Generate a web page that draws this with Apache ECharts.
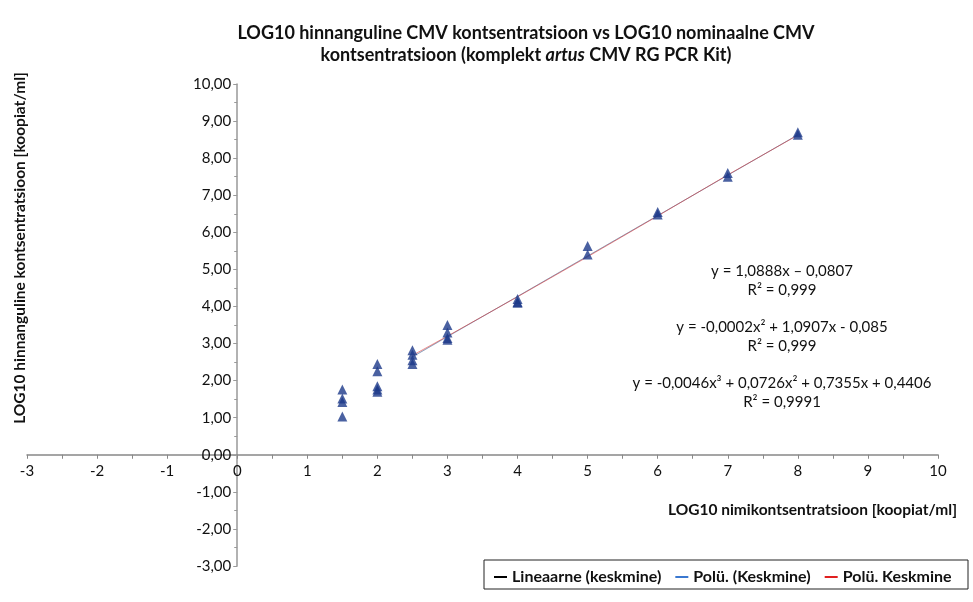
<!DOCTYPE html>
<html>
<head>
<meta charset="utf-8">
<script src="https://cdn.jsdelivr.net/npm/echarts@6/dist/echarts.min.js"></script>
<style>
    html, body { margin: 0; padding: 0; background: #fff; }
    #chart { width: 973px; height: 602px; }
</style>
</head>
<body>
<div id="chart"></div>
<script>
    // LOG10 nominaalne kontsentratsioon (x) ja hinnanguline (y) - mõõtmised
    var pointX = [1.5, 1.5, 1.5, 1.5, 2, 2, 2, 2, 2, 2.5, 2.5, 2.5, 2.5, 3, 3, 3, 3, 4, 4, 4, 5, 5, 6, 6, 7, 7, 8, 8];
    var pointY = [1.76, 1.52, 1.42, 1.03, 2.45, 2.25, 1.85, 1.76, 1.70, 2.82, 2.70, 2.55, 2.45, 3.50, 3.30, 3.15, 3.10, 4.20, 4.12, 4.10, 5.63, 5.40, 6.55, 6.48, 7.60, 7.50, 8.70, 8.63];

    // trendijooned (loetud pildilt)
    var trendX = [2.5, 3, 4, 5, 6, 7, 8];
    var linearY = [2.64, 3.19, 4.27, 5.36, 6.45, 7.54, 8.63];
    var poly2Y = [2.64, 3.18, 4.27, 5.36, 6.45, 7.54, 8.63];
    var poly3Y = [2.68, 3.20, 4.26, 5.34, 6.44, 7.55, 8.62];

    var xTicks = [-3, -2, -1, 0, 1, 2, 3, 4, 5, 6, 7, 8, 9, 10];
    var yTicks = [-3, -2, -1, 0, 1, 2, 3, 4, 5, 6, 7, 8, 9, 10];

    var seriesNames = ['Lineaarne (keskmine)', 'Polü. (Keskmine)', 'Polü. Keskmine'];
    var seriesColors = ['#000000', '#3a78d0', '#e02020'];

    var font = 'Lato, "Noto Sans", sans-serif';

    function pairs(xs, ys) {
        return xs.map(function (x, i) { return [x, ys[i]]; });
    }

    var gridLeft = 27, gridRight = 35, gridTop = 84, gridBottom = 36;
    var plotW = 973 - gridLeft - gridRight;
    var plotH = 602 - gridTop - gridBottom;
    var xMin = xTicks[0], xMax = xTicks[xTicks.length - 1];
    var yMin = yTicks[0], yMax = yTicks[yTicks.length - 1];
    // kus asub nullpunkt - telgede nihutamiseks
    var yAxisShift = -plotW * (0 - xMin) / (xMax - xMin);
    var xAxisShift = -plotH * (0 - yMin) / (yMax - yMin);

    var chart = echarts.init(document.getElementById('chart'));
    var option = {
        backgroundColor: '#fff',
        animation: false,
        textStyle: { fontFamily: font },
        title: {
            text: 'LOG10 hinnanguline CMV kontsentratsioon vs LOG10 nominaalne CMV\nkontsentratsioon (komplekt {i|artus} CMV RG PCR Kit)',
            left: 521,
            textAlign: 'center',
            top: 17,
            textStyle: {
                fontFamily: font,
                fontSize: 18,
                fontWeight: 'bold',
                color: '#111',
                lineHeight: 22,
                rich: {
                    i: { fontFamily: font, fontSize: 18, fontWeight: 'bold', fontStyle: 'italic', color: '#111' }
                }
            }
        },
        grid: {
            left: gridLeft, right: gridRight, top: gridTop, bottom: gridBottom,
            containLabel: false,
            outerBoundsMode: 'none'
        },
        xAxis: {
            type: 'value',
            min: xMin,
            max: xMax,
            interval: 1,
            offset: xAxisShift,
            axisLine: { onZero: false, lineStyle: { color: '#888', width: 1.5 } },
            axisTick: { show: true, length: 4, inside: false, lineStyle: { color: '#888' } },
            minorTick: { show: true, splitNumber: 2, length: 4, lineStyle: { color: '#888' } },
            splitLine: { show: false },
            axisLabel: {
                color: '#111', fontSize: 15, margin: 9,
                formatter: function (v) { return String(v); }
            }
        },
        yAxis: {
            type: 'value',
            min: yMin,
            max: yMax,
            interval: 1,
            offset: yAxisShift,
            axisLine: { show: true, onZero: false, lineStyle: { color: '#999', width: 1.5 } },
            axisTick: { show: true, length: 4, lineStyle: { color: '#999' } },
            minorTick: { show: true, splitNumber: 2, length: 3, lineStyle: { color: '#999' } },
            splitLine: { show: false },
            axisLabel: {
                color: '#111', fontSize: 15, margin: 6,
                formatter: function (v) { return v.toFixed(2).replace('.', ','); }
            }
        },
        legend: {
            left: 489,
            top: 564,
            itemGap: 14,
            itemWidth: 13,
            itemHeight: 2,
            icon: 'rect',
            data: seriesNames,
            textStyle: { fontFamily: font, fontSize: 16, fontWeight: 'bold', color: '#111' }
        },
        graphic: [
            {
                type: 'rect',
                shape: { x: 484, y: 560, width: 484, height: 29 },
                style: { fill: 'none', stroke: '#222', lineWidth: 1 }
            },
            {
                type: 'text',
                left: 668,
                top: 502,
                style: {
                    text: 'LOG10 nimikontsentratsioon [koopiat/ml]',
                    font: 'bold 15.5px ' + font,
                    fill: '#111'
                }
            },
            {
                type: 'text',
                x: 20,
                y: 248,
                rotation: Math.PI / 2,
                style: {
                    text: 'LOG10 hinnanguline kontsentratsioon [koopiat/ml]',
                    font: 'bold 15.5px ' + font,
                    fill: '#111',
                    align: 'center',
                    verticalAlign: 'middle'
                }
            },
            {
                type: 'text',
                x: 782,
                y: 262,
                style: {
                    text: 'y = 1,0888x \u2013 0,0807\nR\u00b2 = 0,999\n\ny = -0,0002x\u00b2 + 1,0907x - 0,085\nR\u00b2 = 0,999\n\ny = -0,0046x\u00b3 + 0,0726x\u00b2 + 0,7355x + 0,4406\nR\u00b2 = 0,9991',
                    font: '15px ' + font,
                    lineHeight: 18.7,
                    fill: '#111',
                    align: 'center'
                }
            }
        ],
        series: [
            {
                name: seriesNames[0],
                type: 'line',
                data: pairs(trendX, linearY),
                showSymbol: false,
                color: seriesColors[0],
                lineStyle: { color: seriesColors[0], width: 1, opacity: 0.3 },
                z: 2
            },
            {
                name: seriesNames[1],
                type: 'line',
                data: pairs(trendX, poly2Y),
                showSymbol: false,
                color: seriesColors[1],
                lineStyle: { color: seriesColors[1], width: 1, opacity: 0.3 },
                z: 2
            },
            {
                name: seriesNames[2],
                type: 'line',
                data: pairs(trendX, poly3Y),
                showSymbol: false,
                color: seriesColors[2],
                lineStyle: { color: seriesColors[2], width: 1, opacity: 0.5 },
                z: 2
            },
            {
                name: 'Keskmine',
                type: 'scatter',
                data: pairs(pointX, pointY),
                symbol: 'triangle',
                symbolSize: 10,
                itemStyle: { color: '#1d3a8a' },
                z: 3
            }
        ]
    };
    chart.setOption(option);
</script>
</body>
</html>
